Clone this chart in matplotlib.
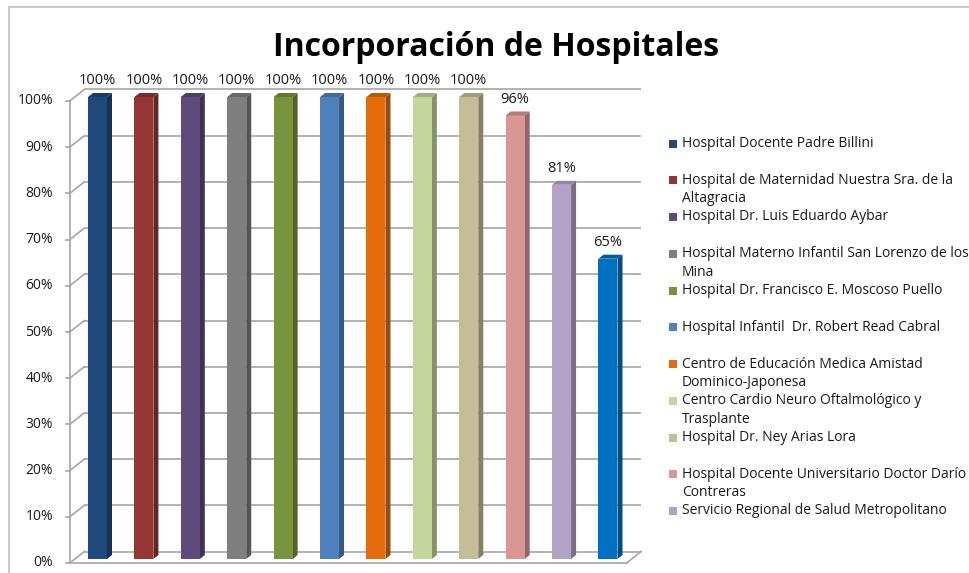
import matplotlib
matplotlib.use("Agg")
import matplotlib.pyplot as plt
from matplotlib.patches import Rectangle
import matplotlib.colors as mcolors
import numpy as np

# ---------------- data ----------------
legend_labels = [
    "Hospital Docente Padre Billini",
    "Hospital de Maternidad Nuestra Sra. de la\nAltagracia",
    "Hospital Dr. Luis Eduardo Aybar",
    "Hospital Materno Infantil San Lorenzo de los\nMina",
    "Hospital Dr. Francisco E. Moscoso Puello",
    "Hospital Infantil  Dr. Robert Read Cabral",
    "Centro de Educación Medica Amistad\nDominico-Japonesa",
    "Centro Cardio Neuro Oftalmológico y\nTrasplante",
    "Hospital Dr. Ney Arias Lora",
    "Hospital Docente Universitario Doctor Darío\nContreras",
    "Servicio Regional de Salud Metropolitano",
]
values = [100, 100, 100, 100, 100, 100, 100, 100, 100, 96, 81, 65]
bar_colors = ["#1F497D", "#943634", "#604A7B", "#7F7F7F", "#77933C", "#4F81BD",
              "#E46C0A", "#C3D69B", "#C4BD97", "#D99694", "#B3A2C7", "#0070C0"]
y_ticks = [0, 10, 20, 30, 40, 50, 60, 70, 80, 90, 100]
title = "Incorporación de Hospitales"

# ---------------- layout ----------------
W_PX, H_PX = 969, 573
FONT = "Open Sans"
TXT = "#1a1a1a"
GRID = "#a6a6a6"

fig = plt.figure(figsize=(W_PX / 100, H_PX / 100), dpi=100)
fig.patch.set_facecolor("white")

def fx(px):
    return px / W_PX

def fy(py):
    return 1 - py / H_PX

# axes = plane of bar front faces
ax_left, ax_right = 74.3, 631.2
ax_top, ax_bottom = 97.0, 559.0
ax = fig.add_axes([fx(ax_left), fy(ax_bottom), (ax_right - ax_left) / W_PX,
                   (ax_bottom - ax_top) / H_PX])
n = len(values)
ax.set_xlim(-0.5, n - 0.5)
ax.set_ylim(0, 100)
ax.axis("off")

ppx = (ax_right - ax_left) / n      # pixels per x unit
ppy = (ax_bottom - ax_top) / 100.0  # pixels per y unit

BAR_W = 19 / ppx
SIDE_DX, SIDE_DY = 5 / ppx, 4 / ppy
BACK_DX, BACK_DY = 10 / ppx, 7.5 / ppy
FRONT_DX, FRONT_DY = -4.5 / ppx, -4 / ppy

x_lo, x_hi = -0.5, n - 0.5
xf = x_lo + FRONT_DX
xb = x_lo + BACK_DX

# back-wall gridlines, left wall lines, ticks, tick labels
for t in y_ticks:
    ax.plot([xb, x_hi + BACK_DX], [t + BACK_DY, t + BACK_DY], color=GRID,
            lw=1.2, zorder=1, clip_on=False, solid_capstyle="butt")
    ax.plot([xf, xb], [t + FRONT_DY, t + BACK_DY], color=GRID, lw=1.2,
            zorder=1, clip_on=False)
    ax.plot([xf - 4 / ppx, xf], [t + FRONT_DY, t + FRONT_DY], color=GRID,
            lw=1.2, zorder=1, clip_on=False)
    ax.text(xf - 16.8 / ppx, t + FRONT_DY, f"{t}%", ha="right", va="center",
            fontsize=10, color=TXT, family=FONT)

# front vertical axis
ax.plot([xf, xf], [FRONT_DY, 100 + FRONT_DY], color=GRID, lw=1.2,
        zorder=1, clip_on=False)
# floor front and right edges
ax.plot([xf, x_hi + FRONT_DX], [FRONT_DY, FRONT_DY], color=GRID, lw=1.2,
        zorder=1, clip_on=False)
ax.plot([x_hi + FRONT_DX, x_hi + BACK_DX], [FRONT_DY, BACK_DY], color=GRID,
        lw=1.2, zorder=1, clip_on=False)

# bars
x = np.arange(n)
bars = ax.bar(x, values, width=BAR_W, color=bar_colors, zorder=3,
              linewidth=0)

def shade(c, f):
    r, g, b = mcolors.to_rgb(c)
    return (r * f, g * f, b * f)

for b, c in zip(bars, bar_colors):
    x0, w, h = b.get_x(), b.get_width(), b.get_height()
    xr = x0 + w
    ax.fill([xr, xr + SIDE_DX, xr + SIDE_DX, xr],
            [0, SIDE_DY, h + SIDE_DY, h], color=shade(c, 0.68), lw=0,
            zorder=2.9, clip_on=False)
    ax.fill([x0, xr, xr + SIDE_DX, x0 + SIDE_DX],
            [h, h, h + SIDE_DY, h + SIDE_DY], color=shade(c, 0.82), lw=0,
            zorder=3.1, clip_on=False)
    ax.text(x0 + w / 2, h + 16 / ppy, f"{h:.0f}%", ha="center", va="center",
            fontsize=10.5, color=TXT, family=FONT, clip_on=False)

# title
fig.text(fx(496), fy(47), title, ha="center", va="center", fontsize=23,
         fontweight="bold", color="black", family=FONT)

# legend (first 11 categories)
for i, (lab, col) in enumerate(zip(legend_labels, bar_colors)):
    y0 = 143.5 + 36.75 * i
    fig.add_artist(Rectangle((fx(669), fy(y0 + 4)), 8 / W_PX, 8 / H_PX,
                             transform=fig.transFigure, color=col, lw=0))
    for j, line in enumerate(lab.split("\n")):
        fig.text(fx(682), fy(y0 + 18.4 * j), line, ha="left", va="center",
                 fontsize=10, color=TXT, family=FONT)

# chart-area border
fig.add_artist(Rectangle((fx(9), fy(590)), fx(980), 583 / H_PX,
                         transform=fig.transFigure, fill=False,
                         edgecolor="#bfbfbf", lw=1.2))

fig.savefig("out.png", dpi=100)
